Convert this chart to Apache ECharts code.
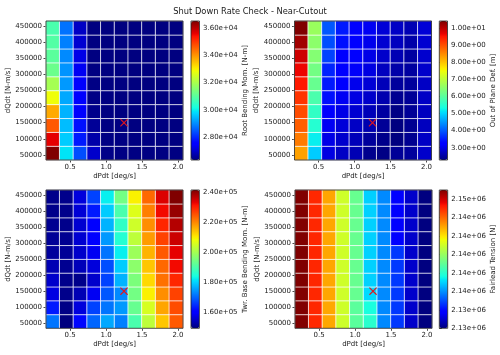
<!DOCTYPE html>
<html>
<head>
<meta charset="utf-8">
<script src="https://cdn.jsdelivr.net/npm/echarts@6/dist/echarts.min.js"></script>
<style>
  html, body { margin: 0; padding: 0; background: #fff; }
  #chart { width: 500px; height: 355px; }
</style>
</head>
<body>
<div id="chart"></div>
<script>
// grid of the sweep
var dPdt = [0.25, 0.44, 0.64, 0.83, 1.03, 1.22, 1.42, 1.61, 1.81, 2.0];
var dQdt = [50000, 94444, 138889, 183333, 227778, 272222, 316667, 361111, 405556, 450000];
var nominal = [1.25, 150000];

// tick labels
var dPdtTicks = [0.5, 1.0, 1.5, 2.0];
var dQdtTicks = [50000, 100000, 150000, 200000, 250000, 300000, 350000, 400000, 450000];
var rootTicks = [28000, 30000, 32000, 34000, 36000];
var oopTicks = [3, 4, 5, 6, 7, 8, 9, 10];
var twrTicks = [160000, 180000, 200000, 220000, 240000];
var fairTicks = [2132000, 2134000, 2136000, 2138000, 2140000, 2142000, 2144000, 2146000];

// one array per dPdt column, values from low dQdt to high dQdt
var rootBending = [
  [36490, 35600, 34620, 33750, 32840, 31930, 31220, 31020, 30920, 30820],
  [29900, 29650, 29500, 29400, 29300, 29150, 29100, 28990, 28890, 28760],
  [28390, 27880, 27780, 27580, 27580, 27570, 27370, 27270, 27070, 26970],
  [27020, 26720, 26560, 26460, 26410, 26410, 26380, 26370, 26365, 26362],
  [26430, 26400, 26390, 26380, 26375, 26370, 26368, 26365, 26363, 26362],
  [26400, 26385, 26378, 26372, 26368, 26366, 26364, 26363, 26362, 26361],
  [26390, 26378, 26372, 26368, 26365, 26364, 26363, 26362, 26361, 26361],
  [26385, 26375, 26370, 26366, 26364, 26363, 26362, 26361, 26361, 26360],
  [26380, 26372, 26368, 26365, 26363, 26362, 26361, 26361, 26360, 26360],
  [26378, 26370, 26366, 26364, 26362, 26361, 26361, 26360, 26360, 26360]
];
var outOfPlane = [
  [8.31, 8.64, 8.88, 9.04, 9.26, 9.48, 9.66, 9.89, 10.19, 10.43],
  [4.93, 5.21, 5.50, 5.62, 5.87, 6.15, 6.27, 6.44, 6.52, 6.65],
  [2.97, 3.01, 3.10, 3.26, 3.42, 3.50, 3.58, 3.83, 3.91, 3.99],
  [2.77, 2.82, 2.91, 3.01, 3.10, 3.18, 3.26, 3.26, 3.42, 3.50],
  [2.65, 2.69, 2.77, 2.85, 2.97, 3.05, 3.14, 3.18, 3.22, 3.26],
  [2.38, 2.48, 2.61, 2.69, 2.81, 2.89, 2.97, 3.01, 3.05, 3.10],
  [2.32, 2.36, 2.44, 2.52, 2.61, 2.69, 2.73, 2.81, 2.85, 2.89],
  [2.44, 2.28, 2.28, 2.32, 2.40, 2.48, 2.57, 2.65, 2.73, 2.77],
  [2.48, 2.40, 2.40, 2.44, 2.44, 2.48, 2.51, 2.52, 2.57, 2.65],
  [2.81, 2.77, 2.73, 2.73, 2.77, 2.77, 2.81, 2.83, 2.85, 2.89]
];
var twrBase = [
  [171400, 163150, 157190, 155350, 153520, 151680, 151220, 150770, 150310, 150310],
  [149390, 149850, 150310, 150310, 150770, 151220, 150770, 150310, 150310, 150310],
  [161320, 156730, 153520, 150310, 153980, 155350, 155810, 155810, 156270, 156730],
  [170030, 166820, 158560, 155350, 156730, 158560, 159940, 160400, 163150, 166820],
  [175990, 171410, 168660, 166820, 167740, 171410, 174620, 176910, 179210, 182420],
  [172330, 174620, 173240, 176910, 179210, 182420, 185630, 187000, 189760, 194340],
  [189760, 192970, 194340, 195260, 197100, 198930, 202600, 204430, 206270, 209480],
  [202600, 205350, 209480, 211770, 213610, 215440, 217740, 219110, 220490, 222780],
  [213610, 216820, 219110, 221860, 222780, 224160, 226450, 229200, 231960, 233790],
  [224160, 225540, 226450, 229200, 231960, 233060, 235170, 237000, 239290, 241130]
];
var fairlead = [
  [2146950, 2146960, 2146970, 2146980, 2146980, 2146980, 2146970, 2146970, 2146960, 2146960],
  [2145000, 2145010, 2145020, 2145030, 2145030, 2145030, 2145030, 2145020, 2145020, 2145010],
  [2142980, 2142990, 2143000, 2143010, 2143010, 2143010, 2143010, 2143000, 2143000, 2143000],
  [2140950, 2140970, 2140980, 2140990, 2140990, 2140990, 2140990, 2140990, 2140980, 2140980],
  [2138890, 2138900, 2139100, 2139120, 2139120, 2139120, 2139120, 2139120, 2139110, 2139110],
  [2137990, 2137690, 2137090, 2136940, 2136940, 2136940, 2136940, 2136940, 2136940, 2136930],
  [2135880, 2135880, 2135890, 2135890, 2135890, 2135890, 2135890, 2135890, 2135890, 2135890],
  [2134700, 2134700, 2134700, 2134700, 2134700, 2134690, 2133800, 2133800, 2133800, 2133790],
  [2132970, 2132970, 2132970, 2132970, 2132970, 2132970, 2132970, 2132970, 2132970, 2132970],
  [2132000, 2132000, 2132000, 2132000, 2132000, 2132000, 2132000, 2132000, 2132000, 2132000]
];

var FONT = 'DejaVu Sans';
var TXT = '#1a1a1a';

// matplotlib jet colormap
function seg(t, pts) {
  for (var i = 1; i < pts.length; i++) {
    if (t <= pts[i][0]) {
      var a = pts[i - 1], b = pts[i];
      return a[1] + (b[1] - a[1]) * (t - a[0]) / (b[0] - a[0]);
    }
  }
  return pts[pts.length - 1][1];
}
function jet(t) {
  var r = seg(t, [[0, 0], [0.35, 0], [0.66, 1], [0.89, 1], [1, 0.5]]);
  var g = seg(t, [[0, 0], [0.125, 0], [0.375, 1], [0.64, 1], [0.91, 0], [1, 0]]);
  var b = seg(t, [[0, 0.5], [0.11, 1], [0.34, 1], [0.65, 0], [1, 0]]);
  return 'rgb(' + Math.round(r * 255) + ',' + Math.round(g * 255) + ',' + Math.round(b * 255) + ')';
}
var jetColors = [];
for (var k = 0; k <= 100; k++) jetColors.push(jet(k / 100));

function sci(v) {
  return v.toExponential(2).replace(/e([+-])(\d)$/, 'e$10$2');
}
function flat(m) {
  var out = [];
  for (var i = 0; i < m.length; i++) for (var j = 0; j < m[i].length; j++) out.push([i, j, m[i][j]]);
  return out;
}
function range(m) {
  var lo = Infinity, hi = -Infinity;
  m.forEach(function (c) { c.forEach(function (v) { lo = Math.min(lo, v); hi = Math.max(hi, v); }); });
  return [lo, hi];
}

var panels = [
  {data: rootBending, ticks: rootTicks, name: 'Root Bending Mom. [N-m]', plot: [46, 21, 137, 139], bar: [191, 21, 8.5, 139]},
  {data: outOfPlane, ticks: oopTicks, name: 'Out of Plane Def. [m]', plot: [294.5, 21, 137, 139], bar: [439.3, 21, 8.2, 139]},
  {data: twrBase, ticks: twrTicks, name: 'Twr. Base Bending Mom. [N-m]', plot: [46, 190, 137, 138.3], bar: [191, 190, 8.4, 138.3]},
  {data: fairlead, ticks: fairTicks, name: 'Fairlead Tension [N]', plot: [295, 190, 137, 138.3], bar: [439.3, 190, 8.4, 138.3]}
];

var grid = [], xAxis = [], yAxis = [], series = [], visualMap = [];
var lbl = {fontFamily: FONT, fontSize: 7, color: TXT};
var tick = {lineStyle: {color: TXT, width: 0.8}};

panels.forEach(function (p, i) {
  var ext = range(p.data);
  grid.push({left: p.plot[0], top: p.plot[1], width: p.plot[2], height: p.plot[3],
    show: true, backgroundColor: 'transparent', borderColor: '#222', borderWidth: 0.8, z: 3});
  grid.push({left: p.bar[0], top: p.bar[1], width: p.bar[2], height: p.bar[3],
    show: true, backgroundColor: 'transparent', borderColor: '#222', borderWidth: 0.8, z: 6});
  var gPlot = grid.length - 2, gBar = grid.length - 1;

  // visible value axes for ticks
  xAxis.push({type: 'value', gridIndex: gPlot, min: 0.165, max: 2.07,
    axisLine: {show: false}, splitLine: {show: false},
    axisTick: {show: true, length: 2.5, customValues: dPdtTicks, lineStyle: tick.lineStyle},
    axisLabel: Object.assign({customValues: dPdtTicks, margin: 3.5, formatter: function (v) { return v.toFixed(1); }}, lbl),
    name: 'dPdt [deg/s]', nameLocation: 'middle', nameGap: 12.5, nameTextStyle: lbl});
  var xv = xAxis.length - 1;
  yAxis.push({type: 'value', gridIndex: gPlot, min: 34000, max: 466000,
    axisLine: {show: false}, splitLine: {show: false},
    axisTick: {show: true, length: 2.5, customValues: dQdtTicks, lineStyle: tick.lineStyle},
    axisLabel: Object.assign({customValues: dQdtTicks, margin: 4, formatter: function (v) { return String(v); }}, lbl),
    name: 'dQdt [N-m/s]', nameLocation: 'middle', nameGap: 34, nameTextStyle: lbl});
  var yv = yAxis.length - 1;
  // hidden category axes that hold the cells
  xAxis.push({type: 'category', gridIndex: gPlot, data: dPdt, show: false});
  var xc = xAxis.length - 1;
  yAxis.push({type: 'category', gridIndex: gPlot, data: dQdt, show: false});
  var yc = yAxis.length - 1;
  // colorbar axes
  xAxis.push({type: 'value', gridIndex: gBar, show: false});
  yAxis.push({type: 'value', gridIndex: gBar, position: 'right', min: ext[0], max: ext[1],
    axisLine: {show: false}, splitLine: {show: false},
    axisTick: {show: true, length: 2.5, customValues: p.ticks, lineStyle: tick.lineStyle},
    axisLabel: Object.assign({customValues: p.ticks, margin: 3.5, formatter: sci}, lbl),
    name: p.name, nameLocation: 'middle', nameGap: 40, nameTextStyle: lbl});

  series.push({type: 'heatmap', xAxisIndex: xc, yAxisIndex: yc, data: flat(p.data),
    itemStyle: {borderColor: 'rgba(255,255,255,0.85)', borderWidth: 0.9},
    emphasis: {disabled: true}, animation: false});
  var si = series.length - 1;
  visualMap.push({type: 'continuous', seriesIndex: si, dimension: 2, min: ext[0], max: ext[1],
    inRange: {color: jetColors}, calculable: false, hoverLink: false, text: null, padding: 0,
    left: p.bar[0], top: p.bar[1], itemWidth: p.bar[2], itemHeight: p.bar[3]});

  series.push({type: 'custom', xAxisIndex: xv, yAxisIndex: yv, data: [nominal], z: 10, silent: true,
    renderItem: function (params, api) {
      var c = api.coord([api.value(0), api.value(1)]);
      var s = 3.6, st = {stroke: '#e3151b', lineWidth: 1.1};
      return {type: 'group', children: [
        {type: 'line', shape: {x1: c[0] - s, y1: c[1] - s, x2: c[0] + s, y2: c[1] + s}, style: st},
        {type: 'line', shape: {x1: c[0] - s, y1: c[1] + s, x2: c[0] + s, y2: c[1] - s}, style: st}
      ]};
    }});
});

var chart = echarts.init(document.getElementById('chart'), null, {renderer: 'canvas'});
chart.setOption({
  animation: false,
  title: {text: 'Shut Down Rate Check - Near-Cutout', left: 'center', top: 3,
    textStyle: {fontFamily: FONT, fontSize: 8.3, fontWeight: 'normal', color: TXT}},
  grid: grid,
  xAxis: xAxis,
  yAxis: yAxis,
  visualMap: visualMap,
  series: series
});
</script>
</body>
</html>
